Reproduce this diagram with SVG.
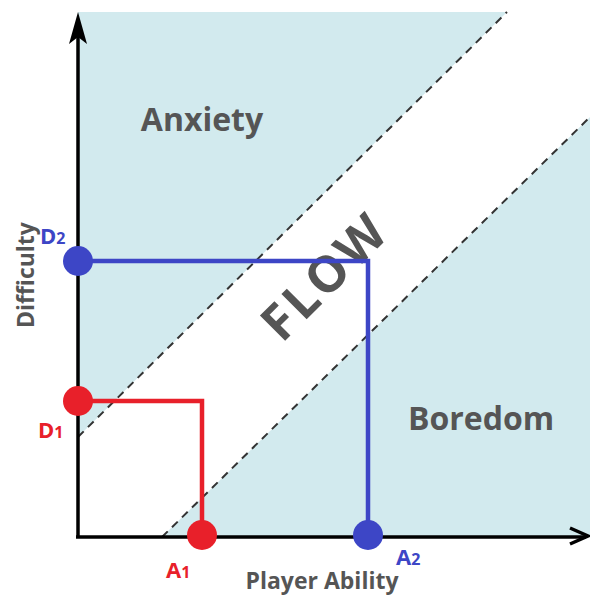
<svg xmlns="http://www.w3.org/2000/svg" width="590" height="597" viewBox="0 0 590 597">
<style>
.region{font-family:"Open Sans","Liberation Sans",sans-serif;font-weight:bold;fill:#555555}
.lbl{font-family:"Open Sans","Liberation Sans",sans-serif;font-weight:bold}
.dash{stroke:#333;stroke-width:2;stroke-dasharray:8 6;fill:none}
.axis{stroke:#000;stroke-width:3.5;fill:none}
</style>
<g id="background">
<rect x="78" y="12" width="512" height="525" fill="#d2eaee"/>
<polygon points="78,437 507,12 590,12 590,117 162,537 78,537" fill="#ffffff"/>
<line class="dash" x1="78" y1="437" x2="507" y2="12"/>
<line class="dash" x1="162" y1="537" x2="590" y2="117"/>
</g>
<g id="regions">
<text class="region" x="202" y="131" font-size="32" text-anchor="middle">Anxiety</text>
<text class="region" x="481" y="430" font-size="32" text-anchor="middle">Boredom</text>
<text class="region" x="0" y="0" font-size="50" text-anchor="middle" letter-spacing="3" transform="translate(337,289) rotate(-45)">FLOW</text>
</g>
<g id="axes">
<line class="axis" x1="78" y1="537" x2="78" y2="20"/>
<path d="M78,12 L69,44 L78,37 L87,44 Z" fill="#000"/>
<line class="axis" x1="76" y1="537" x2="586" y2="537"/>
<path d="M570,528 L588,536 L570,544" stroke="#000" stroke-width="3.5" fill="none"/>
<text class="region" x="322" y="589" font-size="23" text-anchor="middle">Player Ability</text>
<text class="region" x="0" y="0" font-size="23" text-anchor="middle" transform="translate(34,275) rotate(-90)">Difficulty</text>
</g>
<g id="connectors">
<polyline points="78,401 202,401 202,535" stroke="#e8202a" stroke-width="4.5" fill="none"/>
<polyline points="78,261 368,261 368,535" stroke="#3d46c6" stroke-width="4.5" fill="none"/>
</g>
<g id="D1">
<circle cx="78" cy="401" r="15" fill="#e8202a"/>
<text class="lbl" x="38" y="438" font-size="22" fill="#e8202a">D<tspan font-size="16">1</tspan></text>
</g>
<g id="A1">
<circle cx="202" cy="535" r="15" fill="#e8202a"/>
<text class="lbl" x="166" y="578" font-size="22" fill="#e8202a">A<tspan font-size="16">1</tspan></text>
</g>
<g id="D2">
<circle cx="78" cy="261" r="15" fill="#3d46c6"/>
<text class="lbl" x="40" y="244" font-size="22" fill="#3d46c6">D<tspan font-size="16">2</tspan></text>
</g>
<g id="A2">
<circle cx="368" cy="535" r="15" fill="#3d46c6"/>
<text class="lbl" x="396" y="565" font-size="22" fill="#3d46c6">A<tspan font-size="16">2</tspan></text>
</g>
</svg>
